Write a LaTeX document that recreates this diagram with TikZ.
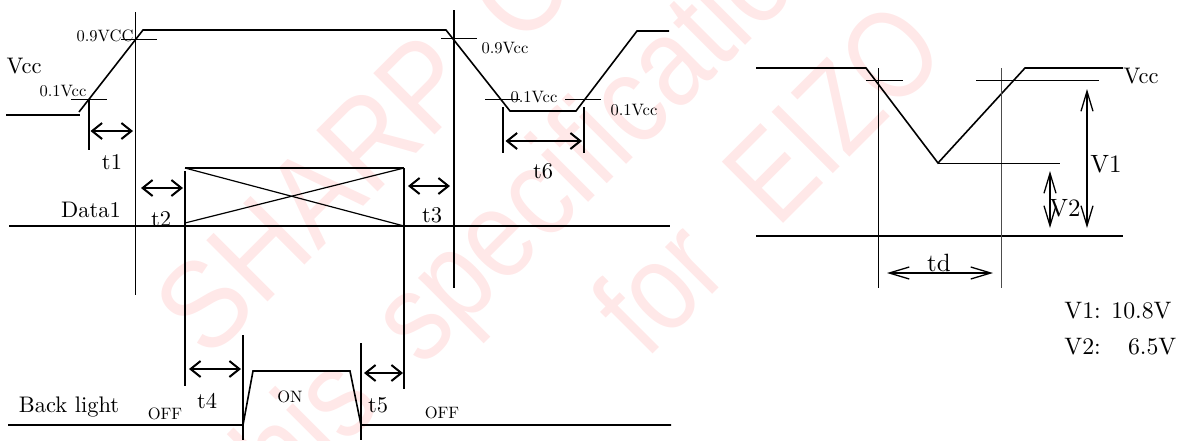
\documentclass[tikz,border=0pt]{standalone}
\usepackage{fontspec}
\usetikzlibrary{arrows.meta}
\newfontfamily\wmfont{Liberation Sans}
\definecolor{wmred}{HTML}{FFE8E8}
\tikzset{
  wave/.style={line width=1.6pt,black,line join=miter},
  thinl/.style={line width=1pt,black},
  vline/.style={line width=1.2pt,black},
  tarrow/.style={line width=2pt,{Straight Barb[length=10pt,width=16pt]}-{Straight Barb[length=10pt,width=16pt]}},
  varrow/.style={line width=1.3pt,{Straight Barb[length=20pt,width=12pt]}-{Straight Barb[length=20pt,width=12pt]}},
  small/.style={inner sep=0pt,scale=1.65},
  mid/.style={inner sep=0pt,scale=2.25},
  big/.style={inner sep=0pt,scale=2.5},
  note/.style={inner sep=0pt,anchor=west,scale=2.38},
  wm/.style={inner sep=0pt,anchor=base west,rotate=45,text=wmred,font=\wmfont\fontsize{126}{130}\selectfont},
}
\begin{document}
\begin{tikzpicture}[x=1pt,y=-1pt]
\useasboundingbox (0,0) rectangle (1179,440);
\begin{scope}
\clip (0,0) rectangle (1179,440);
\node[wm,xscale=.89] (wm1) at (208,362) {SHARP\hspace{.5em}Confidential};
\node[wm,xscale=.857] (wm2) at (265,526) {this\hspace{.5em}specification};
\node[wm,xscale=.83] (wm3) at (646,361) {for\hspace{.61em}EIZO};
\end{scope}
% left: Vcc
\draw[wave] (6,115) -- (80,115);
\draw[wave] (79,112) -- (143,30) -- (446,30) -- (510,111) -- (576,111) -- (637,31) -- (669,31);
\draw[vline] (135.5,12) -- (135.5,295);
\draw[vline] (454,10) -- (454,288);
\draw[thinl] (71,99) -- (107,99);
\draw[thinl] (121,39) -- (157,39);
\draw[thinl] (441,38) -- (477,38);
\draw[thinl] (485,99) -- (520,99);
\draw[thinl] (565,99) -- (601,99);
\draw[vline] (89,99) -- (89,150);
\draw[vline] (503,107) -- (503,153);
\draw[vline] (584,107) -- (584,153);
\draw[tarrow] (90.5,131) -- (133,131);
\draw[tarrow] (141,188) -- (183,188);
\draw[tarrow] (408,186) -- (450,186);
\draw[tarrow] (505.5,141) -- (582,141);
\node[small] (l09a) at (105,36) {0.9VCC};
\node[mid] (lvcc) at (24,66) {Vcc};
\node[small] (l01a) at (63,91) {0.1Vcc};
\node[mid] (lt1) at (112,162) {t1};
\node[mid] (lt2) at (161,219) {t2};
\node[mid] (ldata) at (91,210) {Data1};
\node[small] (l09b) at (505,48) {0.9Vcc};
\node[small] (l01b) at (534,97) {0.1Vcc};
\node[small] (l01c) at (634,110) {0.1Vcc};
\node[mid] (lt6) at (543,171) {t6};
\node[mid] (lt3) at (432,215) {t3};
% data
\draw[wave] (9,226) -- (670,226);
\draw[wave] (185,168) -- (404,168);
\draw[vline] (185,168) -- (404,226);
\draw[vline] (185,223) -- (404,168);
\draw[vline] (185,171) -- (185,386);
\draw[vline] (404,168) -- (404,389);
% backlight
\draw[wave] (8,425) -- (243,425) -- (253,371) -- (350,371) -- (361,425) -- (671,425);
\draw[vline] (243,335) -- (243,440);
\draw[vline] (361,343) -- (361,440);
\draw[tarrow] (189,369) -- (241,369);
\draw[tarrow] (364,373) -- (403,373);
\node[mid] (lbl) at (69,407) {Back light};
\node[small] (loff1) at (165,414) {OFF};
\node[mid] (lt4) at (207,401) {t4};
\node[small] (lon) at (290,397) {ON};
\node[mid] (lt5) at (378,405) {t5};
\node[small] (loff2) at (442,413) {OFF};
% right panel
\draw[wave] (756,68) -- (866,68) -- (938,163) -- (1025,68) -- (1123,68);
\draw[wave] (756,236) -- (1123,236);
\draw[thinl] (878,68) -- (878,288);
\draw[thinl,black!70] (1001,68) -- (1001,288);
\draw[thinl] (866,80) -- (903,80);
\draw[thinl] (976,80) -- (1099,80);
\draw[thinl] (938,163) -- (1060,163);
\draw[varrow] (1087,89) -- (1087,228);
\draw[varrow] (1050,171) -- (1050,228);
\draw[varrow] (887,273) -- (993,273);
\node[mid] (rvcc) at (1141,76) {Vcc};
\node[big] (rv1) at (1106,164) {V1};
\node[big] (rv2) at (1065,208) {V2};
\node[big] (rtd) at (939,263) {td};
\node[note] (rn1) at (1064,311) {V1: 10.8V};
\node[note] (rn2) at (1064,347) {V2:\hspace{0.7em} 6.5V};
\end{tikzpicture}
\end{document}
